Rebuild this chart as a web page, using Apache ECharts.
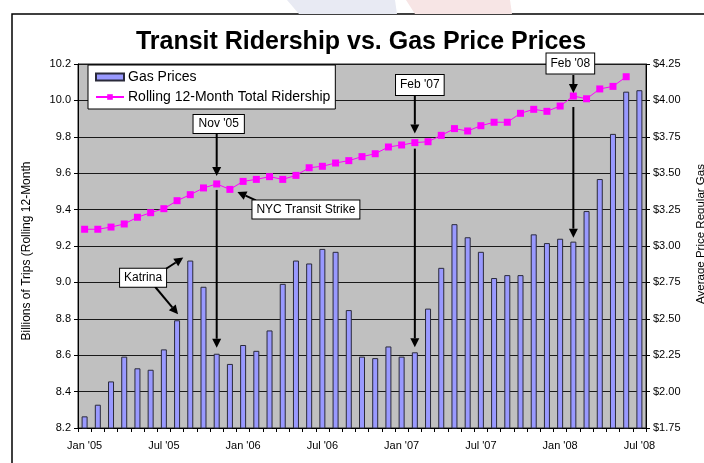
<!DOCTYPE html>
<html>
<head>
<meta charset="utf-8">
<title>Transit Ridership vs. Gas Price Prices</title>
<script src="https://cdn.jsdelivr.net/npm/echarts@6/dist/echarts.min.js"></script>
<style>
  html, body { margin: 0; padding: 0; background: #fff; }
  #chart { width: 704px; height: 463px; }
</style>
</head>
<body>
<div id="chart"></div>
<script>
// Monthly categories, Jan 2005 – Jul 2008
const months = [
  "Jan '05", "Feb '05", "Mar '05", "Apr '05", "May '05", "Jun '05",
  "Jul '05", "Aug '05", "Sep '05", "Oct '05", "Nov '05", "Dec '05",
  "Jan '06", "Feb '06", "Mar '06", "Apr '06", "May '06", "Jun '06",
  "Jul '06", "Aug '06", "Sep '06", "Oct '06", "Nov '06", "Dec '06",
  "Jan '07", "Feb '07", "Mar '07", "Apr '07", "May '07", "Jun '07",
  "Jul '07", "Aug '07", "Sep '07", "Oct '07", "Nov '07", "Dec '07",
  "Jan '08", "Feb '08", "Mar '08", "Apr '08", "May '08", "Jun '08",
  "Jul '08"
];

// Average price of regular gas ($/gallon)
const gasPrices = [
  1.83, 1.91, 2.07, 2.24, 2.16, 2.15, 2.29, 2.49, 2.90, 2.72, 2.26, 2.19,
  2.32, 2.28, 2.42, 2.74, 2.90, 2.88, 2.98, 2.96, 2.56, 2.24, 2.23, 2.31,
  2.24, 2.27, 2.57, 2.85, 3.15, 3.06, 2.96, 2.78, 2.80, 2.80, 3.08, 3.02,
  3.05, 3.03, 3.24, 3.46, 3.77, 4.06, 4.07
];

// Rolling 12-month total transit ridership (billions of trips)
const ridership = [
  9.292, 9.292, 9.304, 9.321, 9.358, 9.383, 9.405, 9.449, 9.482, 9.519, 9.541, 9.511,
  9.555, 9.566, 9.581, 9.566, 9.588, 9.630, 9.638, 9.656, 9.669, 9.691, 9.707, 9.744,
  9.755, 9.768, 9.773, 9.808, 9.845, 9.832, 9.861, 9.880, 9.880, 9.929, 9.951, 9.940,
  9.969, 10.024, 10.009, 10.063, 10.077, 10.130, null
];

// Axis ranges
const tripsAxis = { min: 8.2, max: 10.2, step: 0.2 };
const priceAxis = { min: 1.75, max: 4.25, step: 0.25 };

const FONT = 'Arial, "Liberation Sans", sans-serif';

const chart = echarts.init(document.getElementById('chart'), null, { renderer: 'canvas' });

chart.setOption({
  animation: false,
  backgroundColor: '#ffffff',
  grid: {
    left: 78, right: 58, top: 64, bottom: 35,
    show: true, backgroundColor: '#c0c0c0', borderColor: '#222', borderWidth: 1
  },
  legend: {
    orient: 'vertical',
    left: 88, top: 65,
    backgroundColor: '#ffffff',
    borderColor: '#000', borderWidth: 1, borderRadius: 0,
    padding: [5, 5, 5, 7],
    itemGap: 6,
    itemWidth: 28, itemHeight: 7,
    textStyle: { color: '#000', fontSize: 14, fontFamily: FONT, padding: [0, 0, 0, -1] },
    data: [
      { name: 'Gas Prices', icon: 'rect' },
      { name: 'Rolling 12-Month Total Ridership' }
    ]
  },
  xAxis: {
    type: 'category',
    data: months,
    boundaryGap: true,
    axisLine: { lineStyle: { color: '#000', width: 1 } },
    axisTick: { show: true, interval: 0, length: 4, lineStyle: { color: '#000' } },
    axisLabel: { interval: 5, color: '#000', fontSize: 11, fontFamily: FONT, margin: 12 },
    splitLine: { show: false }
  },
  yAxis: [
    {
      type: 'value',
      min: tripsAxis.min, max: tripsAxis.max, interval: tripsAxis.step,
      position: 'left',
      axisLine: { show: true, lineStyle: { color: '#000' } },
      axisTick: { show: true, length: 4, lineStyle: { color: '#000' } },
      axisLabel: {
        color: '#000', fontSize: 11, fontFamily: FONT, margin: 7,
        formatter: v => v.toFixed(1)
      },
      splitLine: { show: true, lineStyle: { color: '#1a1a1a', width: 1 } }
    },
    {
      type: 'value',
      min: priceAxis.min, max: priceAxis.max, interval: priceAxis.step,
      position: 'right',
      axisLine: { show: true, lineStyle: { color: '#000' } },
      axisTick: { show: true, length: 4, lineStyle: { color: '#000' } },
      axisLabel: {
        color: '#000', fontSize: 11, fontFamily: FONT, margin: 7,
        formatter: v => '$' + v.toFixed(2)
      },
      splitLine: { show: false }
    }
  ],
  series: [
    {
      name: 'Gas Prices',
      type: 'bar',
      yAxisIndex: 1,
      data: gasPrices,
      barWidth: 6,
      itemStyle: { color: '#9999ff', borderColor: '#2a2a3a', borderWidth: 1 }
    },
    {
      name: 'Rolling 12-Month Total Ridership',
      type: 'line',
      yAxisIndex: 0,
      data: ridership,
      symbol: 'rect',
      symbolSize: 7,
      connectNulls: false,
      lineStyle: { color: '#ff00ff', width: 1 },
      itemStyle: { color: '#ff00ff' },
      z: 3
    }
  ]
});

// ---- annotation helpers ----
function linePt(i) { return chart.convertToPixel({ seriesIndex: 1 }, [i, ridership[i]]); }
function barTop(i) { return chart.convertToPixel({ seriesIndex: 0 }, [i, gasPrices[i]]); }

function arrow(x1, y1, x2, y2) {
  const dx = x2 - x1, dy = y2 - y1, L = Math.hypot(dx, dy);
  const ux = dx / L, uy = dy / L, hl = 9, hw = 4.5;
  const bx = x2 - ux * hl, by = y2 - uy * hl;
  return [
    { type: 'line', z: 50, shape: { x1: x1, y1: y1, x2: bx, y2: by },
      style: { stroke: '#000', lineWidth: 2 } },
    { type: 'polygon', z: 50,
      shape: { points: [[x2, y2], [bx - uy * hw, by + ux * hw], [bx + uy * hw, by - ux * hw]] },
      style: { fill: '#000' } }
  ];
}

function box(text, x, y, pad) {
  return {
    type: 'text', z: 51, x: x, y: y,
    style: {
      text: text, font: '12px ' + FONT, fill: '#000',
      align: 'center', verticalAlign: 'middle',
      backgroundColor: '#fff', borderColor: '#000', borderWidth: 1,
      padding: pad || [3, 4]
    }
  };
}

const idx = name => months.indexOf(name);
const g = [];

// faint flag shapes behind the page frame
g.push({ type: 'polygon', z: 0, shape: { points: [[287, 0], [395, 0], [397, 14], [299, 14]] },
  style: { fill: '#e8eaf3' } });
g.push({ type: 'polygon', z: 0, shape: { points: [[406, 0], [510, 0], [512, 14], [415, 14]] },
  style: { fill: '#f7e5e5' } });
g.push({ type: 'rect', z: 1, shape: { x: 12, y: 14, width: 760, height: 520 },
  style: { fill: '#fff', stroke: '#000', lineWidth: 1.5 }, silent: true, zlevel: -1 });

// title and axis titles
g.push({ type: 'text', z: 20, x: 361, y: 42,
  style: { text: 'Transit Ridership vs. Gas Price Prices', font: 'bold 25px ' + FONT,
    fill: '#000', align: 'center', verticalAlign: 'middle' } });
g.push({ type: 'text', z: 20, x: 27, y: 251, rotation: Math.PI / 2,
  style: { text: 'Billions of Trips (Rolling 12-Month', font: '12px ' + FONT,
    fill: '#000', align: 'center', verticalAlign: 'middle' } });
g.push({ type: 'text', z: 20, x: 701, y: 234, rotation: Math.PI / 2,
  style: { text: 'Average Price Regular Gas', font: '11.5px ' + FONT,
    fill: '#000', align: 'center', verticalAlign: 'middle' } });

// Nov '05
{
  const i = idx("Nov '05"), p = linePt(i), b = barTop(i);
  g.push(box("Nov '05", p[0] + 2, 124, [3, 5]));
  g.push(...arrow(p[0], 133, p[0], p[1] - 8));
  g.push(...arrow(p[0], p[1] + 6, p[0], b[1] - 6));
}
// Feb '07
{
  const i = idx("Feb '07"), p = linePt(i), b = barTop(i);
  g.push(box("Feb '07", p[0] + 5, 85, [4, 4]));
  g.push(...arrow(p[0], 95, p[0], p[1] - 9));
  g.push(...arrow(p[0], p[1] + 6, p[0], b[1] - 5));
}
// Feb '08
{
  const i = idx("Feb '08"), p = linePt(i), b = barTop(i);
  g.push(box("Feb '08", p[0] - 3, 63.5, [4, 4]));
  g.push(...arrow(p[0], 75, p[0], p[1] - 3));
  g.push(...arrow(p[0], p[1] + 11, p[0], b[1] - 4));
}
// NYC Transit Strike
{
  const p = linePt(idx("Dec '05"));
  g.push(box('NYC Transit Strike', p[0] + 76, p[1] + 20, [3, 4]));
  g.push(...arrow(p[0] + 26, p[1] + 11, p[0] + 7.5, p[1] + 2.5));
}
// Katrina
{
  const aug = barTop(idx("Aug '05")), sep = barTop(idx("Sep '05"));
  const cx = aug[0] - 34, cy = aug[1] - 42.5;
  g.push(box('Katrina', cx, cy, [3, 4]));
  g.push(...arrow(cx + 23, cy - 9, sep[0] - 7, sep[1] - 3));
  g.push(...arrow(cx + 12, cy + 9, aug[0] + 1, aug[1] - 6));
}

chart.setOption({ graphic: g });
</script>
</body>
</html>
